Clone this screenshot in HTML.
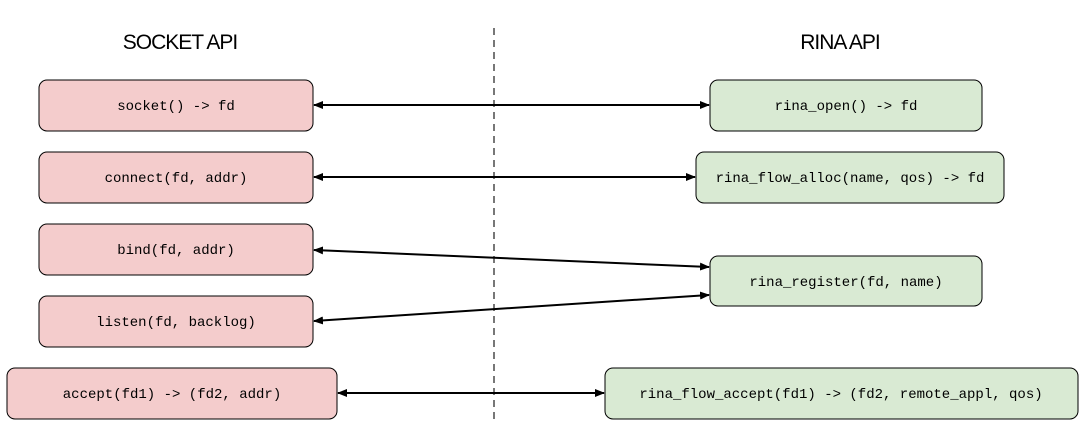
<!DOCTYPE html>
<html><head><meta charset="utf-8"><style>
body{margin:0;background:#fff;}
svg text{font-family:"Liberation Mono",monospace;font-size:14px;fill:#000;}
.t{font-family:"Liberation Sans",sans-serif;font-size:21px;letter-spacing:-1px;}
</style></head><body>
<svg width="1088" height="428" viewBox="0 0 1088 428" xmlns="http://www.w3.org/2000/svg">
<defs><marker id="a" markerWidth="10" markerHeight="8" refX="9" refY="4" orient="auto-start-reverse" markerUnits="userSpaceOnUse"><path d="M0,0 L10,4 L0,8 z" fill="#000"/></marker></defs>
<text class="t" x="180" y="49" text-anchor="middle">SOCKET API</text>
<text class="t" x="840" y="49" text-anchor="middle">RINA API</text>
<line x1="494" y1="28" x2="494" y2="422" stroke="#777" stroke-width="2" stroke-dasharray="7,5"/>
<g stroke="#000" stroke-width="1">
<rect x="39" y="80" width="274" height="51" rx="8" fill="#f4cccc"/>
<rect x="39" y="152" width="274" height="51" rx="8" fill="#f4cccc"/>
<rect x="39" y="224" width="274" height="51" rx="8" fill="#f4cccc"/>
<rect x="39" y="296" width="274" height="51" rx="8" fill="#f4cccc"/>
<rect x="7" y="368" width="330" height="51" rx="8" fill="#f4cccc"/>
<rect x="710" y="80" width="272" height="51" rx="8" fill="#d9ead3"/>
<rect x="696" y="152" width="308" height="51" rx="8" fill="#d9ead3"/>
<rect x="710" y="256" width="272" height="50" rx="8" fill="#d9ead3"/>
<rect x="605" y="368" width="473" height="51" rx="8" fill="#d9ead3"/>
</g>
<g stroke="#000" stroke-width="2" fill="none">
<line x1="314" y1="105" x2="709" y2="105" marker-start="url(#a)" marker-end="url(#a)"/>
<line x1="314" y1="177" x2="695" y2="177" marker-start="url(#a)" marker-end="url(#a)"/>
<line x1="314" y1="250" x2="709" y2="267" marker-start="url(#a)" marker-end="url(#a)"/>
<line x1="314" y1="321" x2="709" y2="295" marker-start="url(#a)" marker-end="url(#a)"/>
<line x1="338" y1="393" x2="604" y2="393" marker-start="url(#a)" marker-end="url(#a)"/>
</g>
<g text-anchor="middle">
<text x="176" y="110">socket() -&gt; fd</text>
<text x="176" y="182">connect(fd, addr)</text>
<text x="176" y="254">bind(fd, addr)</text>
<text x="176" y="326">listen(fd, backlog)</text>
<text x="172" y="398">accept(fd1) -&gt; (fd2, addr)</text>
<text x="846" y="110">rina_open() -&gt; fd</text>
<text x="850" y="182">rina_flow_alloc(name, qos) -&gt; fd</text>
<text x="846" y="286">rina_register(fd, name)</text>
<text x="841" y="398">rina_flow_accept(fd1) -&gt; (fd2, remote_appl, qos)</text>
</g>
</svg>
</body></html>
